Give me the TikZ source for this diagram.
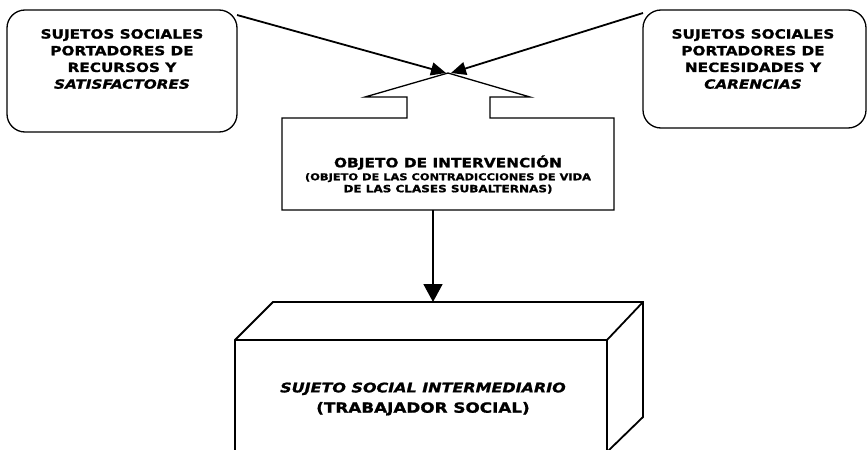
\documentclass[tikz,border=0pt]{standalone}
\usepackage{fontspec}
\setmainfont{DejaVu Sans}
\newfontfamily\vfont[FakeStretch=1.2, BoldFeatures={FakeBold=1.2}, BoldItalicFeatures={FakeBold=1.2}]{DejaVu Sans}
\usetikzlibrary{arrows.meta}
\tikzset{
  sidebox/.style={draw, line width=1.3pt, rounded corners=18pt},
  lbl/.style={align=center, font=\vfont\fontsize{12.7}{16.7}\selectfont\bfseries, inner sep=0pt},
  conn/.style={line width=1.8pt, -{Triangle[length=15pt,width=13pt]}},
  outline/.style={draw, line width=1.3pt, line join=miter},
  cube/.style={draw, line width=1.8pt, line join=miter}
}
\begin{document}
\begin{tikzpicture}[x=1pt,y=-1pt]
\useasboundingbox (0,0) rectangle (868,450);
% side boxes
\draw[sidebox] (7,10) rectangle (237,132);
\draw[sidebox] (643,10) rectangle (866,128);
\node[lbl] (ltext) at (122,59) {SUJETOS SOCIALES\\PORTADORES DE\\RECURSOS Y\\\itshape SATISFACTORES};
\node[lbl] (rtext) at (753,59) {SUJETOS SOCIALES\\PORTADORES DE\\NECESIDADES Y\\\itshape CARENCIAS};
\coordinate (lstart) at (237,15);
\coordinate (rstart) at (643,13);
\coordinate (apexL) at (446,73);
\coordinate (apexR) at (451,73);
% block arrow / object box
\draw[outline] (448,73) -- (530,97) -- (490,97) -- (490,118) -- (614,118) -- (614,210)
  -- (282,210) -- (282,118) -- (407,118) -- (407,97) -- (365,97) -- cycle;
\node[align=center, inner sep=0pt, font=\vfont\bfseries] (obj) at (448,174.5) {\fontsize{12.8}{16}\selectfont OBJETO DE INTERVENCIÓN\\[1pt]
  \fontsize{9.5}{11}\selectfont (OBJETO DE LAS CONTRADICCIONES DE VIDA\\DE LAS CLASES SUBALTERNAS)};
% connectors
\draw[conn] (lstart) -- (apexL);
\draw[conn] (rstart) -- (apexR);
\coordinate (objbot) at (433,210);
\coordinate (cubetop) at (433,302);
\draw[line width=1.8pt, -{Triangle[length=18pt,width=19pt]}] (objbot) -- (cubetop);
% cube
\draw[cube] (235,452) -- (235,340) -- (273,302) -- (643,302) -- (643,417) -- (607,452);
\draw[cube] (235,340) -- (607,340) -- (643,302);
\draw[cube] (607,340) -- (607,452);
\node[align=center, inner sep=0pt, font=\vfont\bfseries] (cube) at (423,399)
  {\fontsize{13.3}{16}\selectfont\itshape SUJETO SOCIAL INTERMEDIARIO\\[6pt]\fontsize{14}{16}\selectfont\upshape (TRABAJADOR SOCIAL)};
\end{tikzpicture}
\end{document}
